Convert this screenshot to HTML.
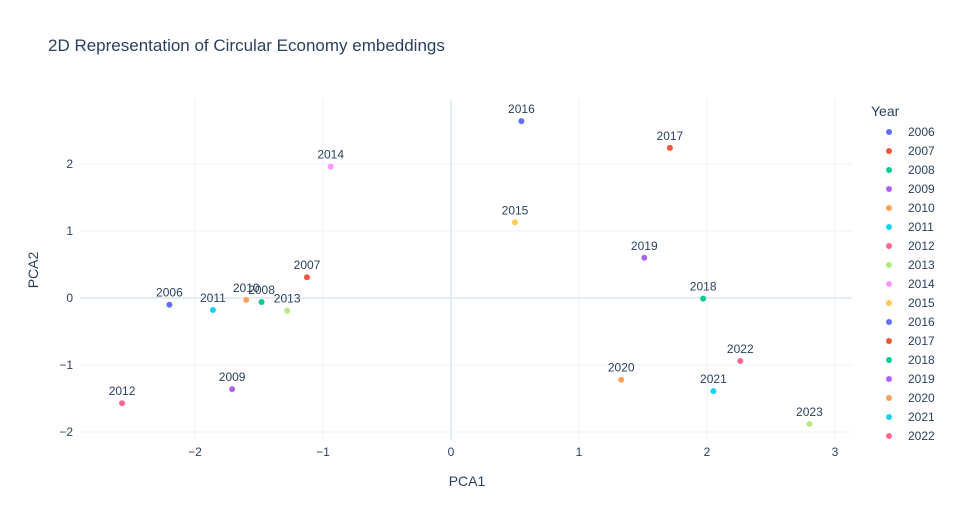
<!DOCTYPE html>
<html><head><meta charset="utf-8"><style>
body{margin:0;background:#fff;font-family:"Liberation Sans",Arial,sans-serif}
svg text{font-family:"Liberation Sans",Arial,sans-serif}
</style></head><body>
<svg id="chart" width="955" height="525">
<text x="48" y="51" font-size="17" fill="#2a3f5f">2D Representation of Circular Economy embeddings</text>
<g id="grid"></g><g id="pts"></g><g id="legend"></g>
<text x="467" y="486" font-size="14" fill="#2a3f5f" text-anchor="middle">PCA1</text>
<text x="0" y="0" font-size="14" fill="#2a3f5f" text-anchor="middle" transform="translate(38,270) rotate(-90)">PCA2</text>
</svg>
<script>
const years=["2006","2007","2008","2009","2010","2011","2012","2013","2014","2015","2016","2017","2018","2019","2020","2021","2022","2023"];
const pca1=[-2.20,-1.125,-1.48,-1.71,-1.60,-1.86,-2.57,-1.28,-0.94,0.50,0.55,1.71,1.97,1.51,1.33,2.05,2.26,2.80];
const pca2=[-0.10,0.31,-0.06,-1.36,-0.03,-0.18,-1.57,-0.19,1.96,1.13,2.64,2.24,-0.01,0.60,-1.22,-1.39,-0.94,-1.88];
const xTicks=[-2,-1,0,1,2,3];
const yTicks=[-2,-1,0,1,2];
const colors=["#636efa","#EF553B","#00cc96","#ab63fa","#FFA15A","#19d3f3","#FF6692","#B6E880","#FF97FF","#FECB52"];
const L=80,R=852,T=100,B=440;
const X=v=>451+v*128, Y=v=>298-v*67;
const NS="http://www.w3.org/2000/svg";
function mk(p,tag,a,txt){const e=document.createElementNS(NS,tag);for(const k in a)e.setAttribute(k,a[k]);if(txt!=null)e.textContent=txt;p.appendChild(e);return e;}
const g=document.getElementById('grid');
xTicks.forEach(t=>{const x=X(t);
 if(x<=R){const l=mk(g,'line',{x1:x,x2:x,y1:T,y2:B,stroke:t===0?'#e5ecf6':'#eef2f8','stroke-width':t===0?2:1});
 }
 const tx=mk(g,'text',{x:x,y:B+16,'font-size':12,fill:'#2a3f5f','text-anchor':'middle'},t<0?'\u2212'+(-t):String(t));
 });
yTicks.forEach(t=>{const y=Y(t);
 const l=mk(g,'line',{x1:L,x2:R,y1:y,y2:y,stroke:t===0?'#e5ecf6':'#eef2f8','stroke-width':t===0?2:1});
 
 const tx=mk(g,'text',{x:L-7,y:y+4,'font-size':12,fill:'#2a3f5f','text-anchor':'end'},t<0?'\u2212'+(-t):String(t));
 });
const p=document.getElementById('pts');
years.forEach((yr,i)=>{const cx=X(pca1[i]),cy=Y(pca2[i]);
 const c=mk(p,'circle',{cx:cx,cy:cy,r:3,fill:colors[i%10]});
 
 const t=mk(p,'text',{x:cx,y:cy-8,'font-size':12,fill:'#2a3f5f','text-anchor':'middle'},yr);
 });
const lg=document.getElementById('legend');
const lt=mk(lg,'text',{x:871,y:116,'font-size':14,fill:'#2a3f5f'},'Year');

years.forEach((yr,i)=>{const y=132+i*19; if(y>445)return;
 const e=mk(lg,'g',{});
 
 mk(e,'circle',{cx:889,cy:y,r:3,fill:colors[i%10]});
 mk(e,'text',{x:908,y:y+4,'font-size':12,fill:'#2a3f5f'},yr);});
</script>
</body></html>
